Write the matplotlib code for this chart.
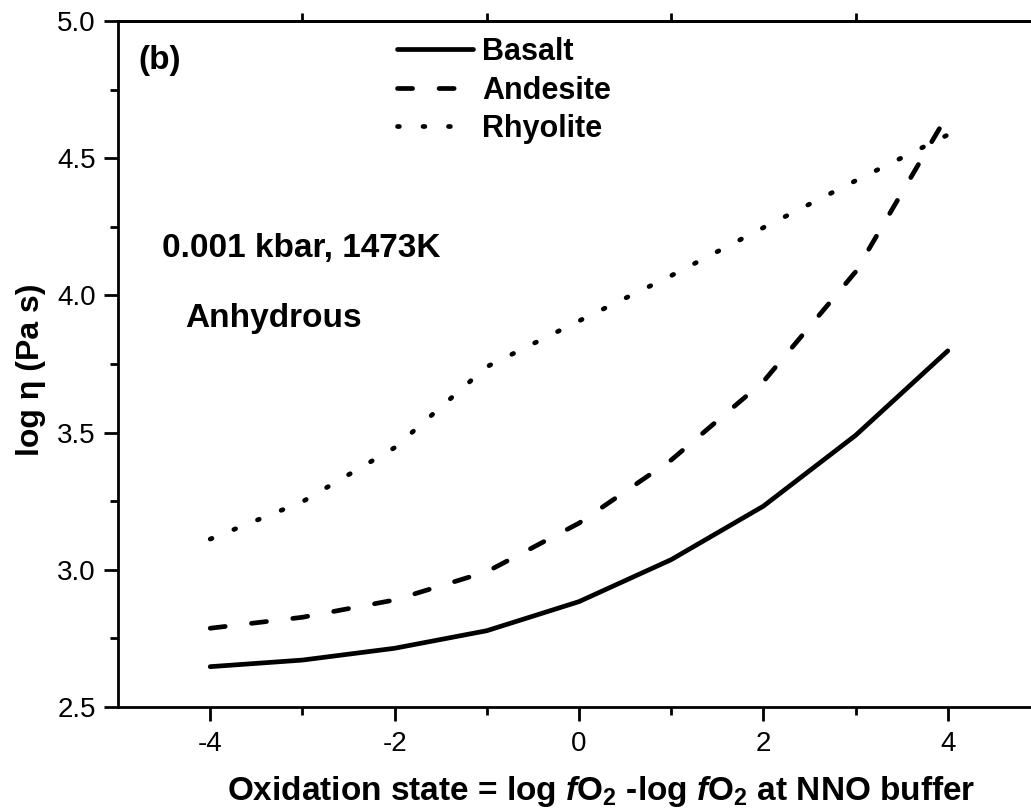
import numpy as np
import matplotlib
matplotlib.use("Agg")
import matplotlib.pyplot as plt

# Datos
ox_state = [-4, -3, -2, -1, 0, 1, 2, 3, 4]
basalt = [2.647, 2.671, 2.714, 2.778, 2.884, 3.037, 3.232, 3.490, 3.798]
andesite = [2.787, 2.827, 2.890, 2.993, 3.170, 3.400, 3.686, 4.086, 4.660]
rhyolite = [3.112, 3.248, 3.445, 3.740, 3.907, 4.072, 4.247, 4.418, 4.585]
x_major = [-4, -2, 0, 2, 4]
y_major = [2.5, 3.0, 3.5, 4.0, 4.5, 5.0]

plt.rcParams['font.family'] = ['Liberation Sans', 'DejaVu Sans']
plt.rcParams['mathtext.fontset'] = 'custom'
plt.rcParams['mathtext.rm'] = 'Liberation Sans:bold'
plt.rcParams['mathtext.it'] = 'Liberation Sans:bold:italic'
plt.rcParams['mathtext.bf'] = 'Liberation Sans:bold'

W, H = 1031, 808
fig = plt.figure(figsize=(W / 100, H / 100), dpi=100)
ax = fig.add_axes([118 / W, 1 - 707 / H, (1040 - 118) / W, (707 - 21) / H])

lw = 3.4
ax.plot(ox_state, basalt, color='black', lw=lw, solid_capstyle='round', label='Basalt')
ax.plot(ox_state, andesite, color='black', lw=lw, linestyle=(0, (3.2, 5.6)),
        dash_capstyle='round', label='Andesite')
ax.plot(ox_state, rhyolite, color='black', lw=lw, linestyle=(0, (0.4, 5.0)),
        dash_capstyle='round', label='Rhyolite')

ax.set_xlim(-5, 5)
ax.set_ylim(2.5, 5.0)
ax.set_xticks(x_major)
ax.set_xticks([-3, -1, 1, 3], minor=True)
ax.set_yticks(y_major)
ax.set_yticks([2.75, 3.25, 3.75, 4.25, 4.75], minor=True)
ax.set_yticklabels([f"{v:.1f}" for v in y_major])
ax.set_xticklabels([str(v) for v in x_major])

ax.spines['right'].set_visible(False)
for s in ['left', 'bottom', 'top']:
    ax.spines[s].set_linewidth(2.0)

ax.tick_params(which='major', direction='out', length=10, width=2.0,
               labelsize=20, pad=6)
ax.tick_params(axis='x', which='major', pad=7)
ax.tick_params(which='minor', direction='out', length=5.5, width=2.0)

# Eje superior
top = ax.secondary_xaxis('top')
top.set_xticks([-3, -1, 1, 3])
top.set_xticks(x_major, minor=True)
top.tick_params(which='major', direction='out', length=5.5, width=2.0, labeltop=False)
top.tick_params(which='minor', direction='out', length=1.0, width=2.0)
top.spines['top'].set_linewidth(2.0)

ax.set_xlabel(r'Oxidation state = log $f$O$_{\mathrm{2}}$ -log $f$O$_{\mathrm{2}}$ at NNO buffer',
              fontsize=24, fontweight='bold')
ax.xaxis.set_label_coords((601 - 118) / 922, (707 - 774) / 686)
ax.set_ylabel('log η (Pa s)', fontsize=23, fontweight='bold')
ax.yaxis.set_label_coords((46 - 118) / 922, (707 - 370) / 686)

ax.text((138 - 118) / 922, (707 - 61) / 686, '(b)', transform=ax.transAxes,
        fontsize=24, fontweight='bold', va='center', ha='left')
ax.text((162 - 118) / 922, (707 - 249) / 686, '0.001 kbar, 1473K', transform=ax.transAxes,
        fontsize=24, fontweight='bold', va='center', ha='left')
ax.text((185 - 118) / 922, (707 - 319) / 686, 'Anhydrous', transform=ax.transAxes,
        fontsize=24, fontweight='bold', va='center', ha='left')

leg = ax.legend(loc='upper left', bbox_to_anchor=((397 - 118) / 922, (707 - 37) / 686),
                frameon=False, borderpad=0, borderaxespad=0, handlelength=2.49,
                handletextpad=0.29, labelspacing=0.28,
                prop={'size': 22, 'weight': 'bold'})

plt.savefig("out.png", dpi=100)
